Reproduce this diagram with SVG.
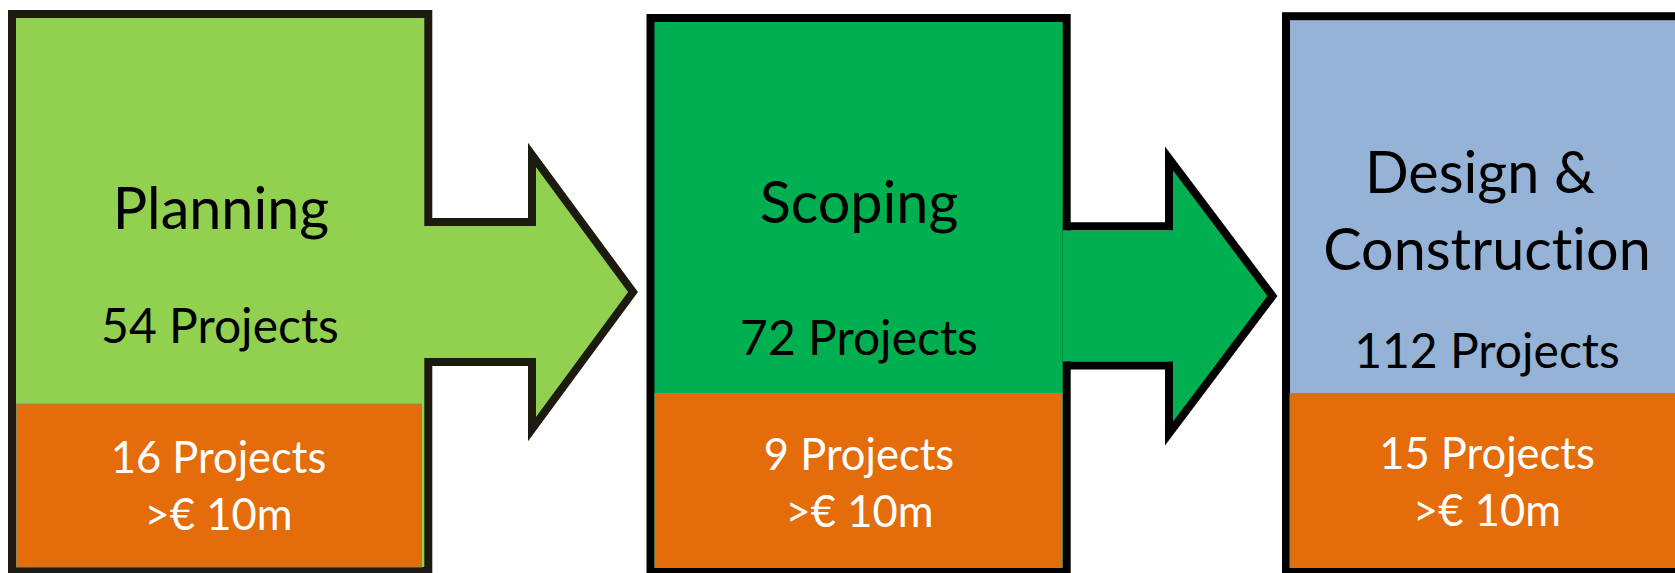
<svg xmlns="http://www.w3.org/2000/svg" width="1675" height="573" viewBox="0 0 1675 573">
<style>
.box{stroke-width:8;stroke-linejoin:miter}
.big{stroke:#948A54;stroke-width:1}
.t{font-family:Lato,"Open Sans","Liberation Sans",sans-serif;text-anchor:middle;font-variant-ligatures:none;font-feature-settings:"liga" 0}
.title{font-size:57.5px;fill:#000}
.cnt{font-size:48px;fill:#000}
.w{font-size:43.5px;fill:#fff}
.arrow-line{fill:none;stroke-width:8;stroke-linejoin:miter;stroke-linecap:butt}
</style>
<rect width="1675" height="573" fill="#fff"/>
<g id="planning">
<rect class="box" x="12" y="14" width="416.3" height="557" fill="#92D050" stroke="#1D1B10"/>
<rect class="big" x="16.5" y="404" width="405" height="163" fill="#E46C0A"/>
<text class="t title" x="221" y="229">Planning</text>
<text class="t cnt" x="220" y="343">54 Projects</text>
<text class="t w" x="218.5" y="473">16 Projects</text>
<text class="t w" x="218.5" y="530">&gt;€ 10m</text>
</g>
<g id="scoping">
<rect class="box" x="650.5" y="18" width="416.2" height="553" fill="#00B050" stroke="#000"/>
<rect class="big" x="655" y="393.5" width="407" height="174" fill="#E46C0A"/>
<text class="t title" x="859" y="223">Scoping</text>
<text class="t cnt" x="859" y="355">72 Projects</text>
<text class="t w" x="859" y="469.5">9 Projects</text>
<text class="t w" x="859.5" y="527">&gt;€ 10m</text>
</g>
<g id="design-construction">
<rect class="box" x="1286" y="16.2" width="420" height="555" fill="#95B3D7" stroke="#000"/>
<rect class="big" x="1290" y="393.5" width="400" height="174" fill="#E46C0A"/>
<text class="t title" x="1480" y="193">Design &amp;</text>
<text class="t title" x="1487" y="269.5">Construction</text>
<text class="t cnt" x="1487" y="368">112 Projects</text>
<text class="t w" x="1487" y="469">15 Projects</text>
<text class="t w" x="1487" y="526">&gt;€ 10m</text>
</g>
<g id="connectors">
<g id="arrow-planning-scoping">
<path d="M424,226 H532 V155 L633,292 L532,429 V358 H424 Z" fill="#92D050"/>
<path class="arrow-line" d="M428,222 H532 V155 L633,292 L532,429 V362 H428" stroke="#1D1B10"/>
</g>
<g id="arrow-scoping-design">
<path d="M1062.7,230.3 H1169 V158.4 L1272.5,296 L1169,433.6 V361.5 H1062.7 Z" fill="#00B050"/>
<path class="arrow-line" d="M1066.7,226.3 H1169 V158.4 L1272.5,296 L1169,433.6 V365.5 H1066.7" stroke="#000"/>
</g>
</g>
</svg>
